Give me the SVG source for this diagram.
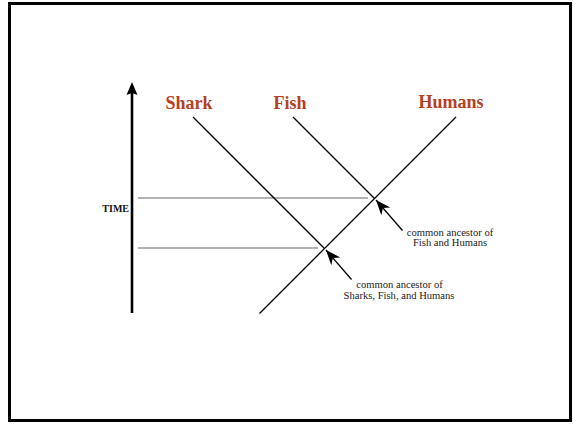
<svg xmlns="http://www.w3.org/2000/svg" width="578" height="424" viewBox="0 0 578 424">
  <style>
    .frame { fill: #ffffff; stroke: #000000; stroke-width: 3; }
    .branch { stroke: #000000; stroke-width: 1.3; fill: none; }
    .level { stroke: #666666; stroke-width: 1.2; fill: none; }
    .pointer { stroke: #000000; stroke-width: 1.3; fill: none; marker-end: url(#barb); }
    .taxon { font-family: "Liberation Serif", "Times New Roman", serif; font-weight: bold; font-size: 18px; fill: #b4401f; }
    .note { font-family: "Liberation Serif", "Times New Roman", serif; font-size: 10.6px; fill: #222222; text-anchor: middle; }
    .axis-label { font-family: "Liberation Serif", "Times New Roman", serif; font-weight: bold; font-size: 10px; fill: #111111; text-anchor: end; }
  </style>
  <defs>
    <marker id="barb" markerWidth="18" markerHeight="14" refX="15" refY="6" orient="auto" markerUnits="userSpaceOnUse">
      <path d="M0,0 L15,6 L0,12 L4.5,6 Z" fill="#000000"/>
    </marker>
  </defs>

  <!-- outer frame -->
  <rect class="frame" x="9.5" y="3.5" width="561" height="417"/>

  <!-- time axis -->
  <g id="time-axis">
    <line x1="132" y1="313" x2="132" y2="92" stroke="#000000" stroke-width="2.6"/>
    <path d="M132,82 L137.5,95 L132,93 L126.5,95 Z" fill="#000000"/>
    <text class="axis-label" x="129" y="212">TIME</text>
  </g>

  <!-- taxa -->
  <g id="shark"><text class="taxon" x="165.5" y="109">Shark</text></g>
  <g id="fish"><text class="taxon" x="273.5" y="109">Fish</text></g>
  <g id="humans"><text class="taxon" x="418.5" y="108">Humans</text></g>

  <!-- common-ancestor notes -->
  <g id="ancestor-fish-humans">
    <text class="note" x="450" y="235.5">common ancestor of</text>
    <text class="note" x="450" y="246">Fish and Humans</text>
  </g>
  <g id="ancestor-all">
    <text class="note" x="399.5" y="287.5">common ancestor of</text>
    <text class="note" x="399" y="298.5">Sharks, Fish, and Humans</text>
  </g>

  <!-- branches, time levels and pointers -->
  <g id="connectors">
    <line class="level" x1="138" y1="198" x2="368" y2="198"/>
    <line class="level" x1="138" y1="248" x2="318" y2="248"/>
    <line class="branch" x1="456" y1="117" x2="259.5" y2="313.5"/>
    <line class="branch" x1="293" y1="117" x2="374.5" y2="198.5"/>
    <line class="branch" x1="193" y1="117" x2="324.5" y2="248.5"/>
    <line class="pointer" x1="402.5" y1="230.5" x2="376" y2="200"/>
    <line class="pointer" x1="351.5" y1="279.5" x2="326" y2="250"/>
  </g>
</svg>
